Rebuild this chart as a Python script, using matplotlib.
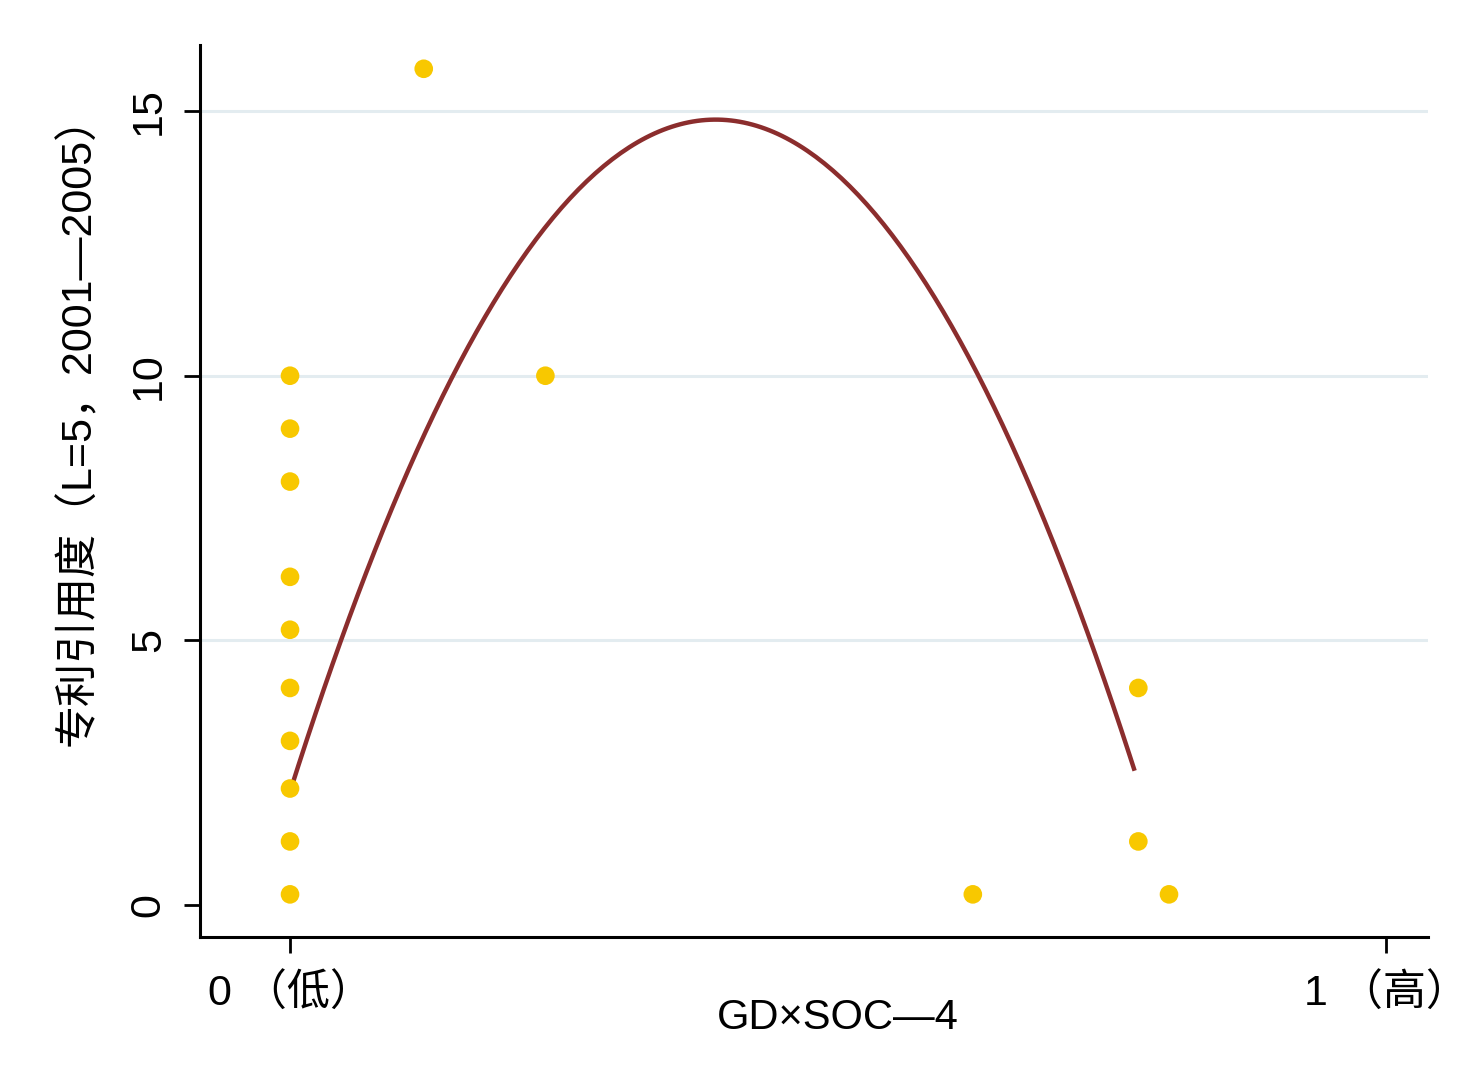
import matplotlib
matplotlib.use('Agg')
import matplotlib.pyplot as plt
import numpy as np

plt.rcParams['font.family'] = ['Liberation Sans', 'Noto Sans CJK SC', 'DejaVu Sans']
plt.rcParams['axes.unicode_minus'] = False

# 散点数据
x = [0, 0, 0, 0, 0, 0, 0, 0, 0, 0, 0.122, 0.233, 0.623, 0.774, 0.774, 0.802]
y = [0.2, 1.2, 2.2, 3.1, 4.1, 5.2, 6.2, 8.0, 9.0, 10.0, 15.8, 10.0, 0.2, 4.1, 1.2, 0.2]

# 二次拟合曲线的系数 y = c0 + c1*x + c2*x^2，以及曲线的x范围
c0, c1, c2 = 2.14, 65.4, -84.2
fit_x0, fit_x1 = 0.0, 0.77

xticks = [0, 1]
xtick_labels = ['0 （低）', '1 （高）']
yticks = [0, 5, 10, 15]

fig = plt.figure(figsize=(14.72, 10.68), dpi=100)
ax = fig.add_axes([0.1359, 0.1227, 0.8342, 0.8352])

# 网格线
for t in yticks[1:]:
    ax.axhline(t, color='#e3ecf0', lw=2.2, zorder=0)

ax.scatter(x, y, s=180, color='#f8c800', edgecolors='none', zorder=3)

fx = np.linspace(fit_x0, fit_x1, 200)
fy = c0 + c1 * fx + c2 * fx ** 2
ax.plot(fx, fy, color='#8b2d2d', lw=3.2, zorder=2)

ax.set_xlim(-0.0821, 1.0383)
ax.set_ylim(-0.605, 16.25)

ax.set_xticks(xticks)
ax.set_xticklabels(xtick_labels, fontsize=31)
ax.set_yticks(yticks)
ax.set_yticklabels([str(t) for t in yticks], fontsize=31, rotation=90, va='center')

ax.tick_params(axis='both', length=11.5, width=2, color='black')
ax.tick_params(axis='y', pad=11)
ax.tick_params(axis='x', pad=15)

for side in ['top', 'right']:
    ax.spines[side].set_visible(False)
for side in ['left', 'bottom']:
    ax.spines[side].set_linewidth(2.2)

ax.set_xlabel('GD×SOC—4', fontsize=30)
ax.xaxis.set_label_coords((838 - 200) / 1228, -(998 - 937) / 892)
ax.set_ylabel('专利引用度（L=5，2001—2005）', fontsize=31)
ax.yaxis.set_label_coords(-(200 - 99) / 1228, (937 - 420) / 892)

fig.savefig('out.png', dpi=100, facecolor='white')
